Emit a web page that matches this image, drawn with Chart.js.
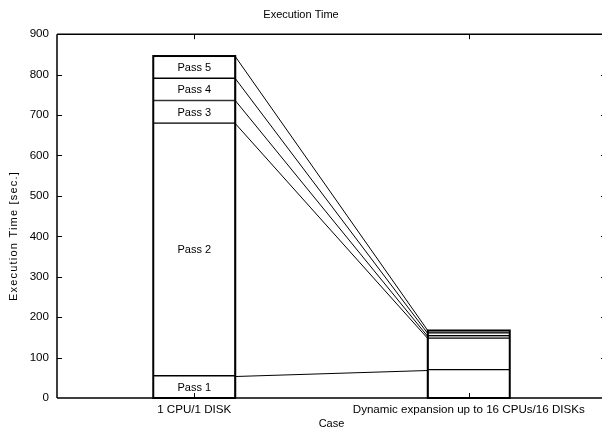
<!DOCTYPE html>
<html>
<head>
<meta charset="utf-8">
<script src="https://cdn.jsdelivr.net/npm/chart.js@4/dist/chart.umd.min.js"></script>
<style>
  html, body { margin: 0; padding: 0; background: #fff; }
  canvas { display: block; }
</style>
</head>
<body>
<canvas id="c" width="602" height="432"></canvas>
<script>
// Execution time per pass for each configuration (seconds)
const cases = ['1 CPU/1 DISK', 'Dynamic expansion up to 16 CPUs/16 DISKs'];
const passNames = ['Pass 1', 'Pass 2', 'Pass 3', 'Pass 4', 'Pass 5'];
const pass1 = [55, 70];
const pass2 = [625, 78];
const pass3 = [56, 6];
const pass4 = [55, 7];
const pass5 = [55, 6];
const yTicks = [0, 100, 200, 300, 400, 500, 600, 700, 800, 900];
const yTitle = 'Execution Time [sec.]';

const FONT = "'Liberation Sans', Arial, Helvetica, sans-serif";
const passValues = [pass1, pass2, pass3, pass4, pass5];

const datasets = passValues.map((vals, i) => ({
  label: passNames[i],
  data: vals,
  backgroundColor: '#ffffff',
  borderColor: '#000000',
  borderWidth: 1,
  borderSkipped: false,
  barThickness: 82
}));

// The plot frame runs a few pixels past the right edge of the canvas,
// so the right-hand border is clipped and only the mirrored ticks show.
const overhangPlugin = {
  id: 'overhang',
  afterLayout(chart) {
    const extra = 4;
    const xs = chart.scales.x;
    xs.right += extra;
    xs.width += extra;
    xs.configure();
    chart.chartArea.right += extra;
    chart.chartArea.width += extra;
  }
};

// Gnuplot-style frame: border, inward ticks, mirrored ticks,
// lines joining segment tops and labels inside the first bar.
const framePlugin = {
  id: 'frame',
  afterDatasetsDraw(chart) {
    const ctx = chart.ctx;
    const a = chart.chartArea;
    const xs = chart.scales.x, ys = chart.scales.y;
    ctx.save();
    ctx.strokeStyle = '#000';

    // connecting lines between the tops of matching segments
    ctx.lineWidth = 1;
    chart.data.datasets.forEach((ds, i) => {
      const els = chart.getDatasetMeta(i).data;
      const l = els[0], r = els[1];
      ctx.beginPath();
      ctx.moveTo(l.x + l.width / 2, Math.round(l.y) + 0.5);
      ctx.lineTo(r.x - r.width / 2, Math.round(r.y) + 0.5);
      ctx.stroke();
    });

    // outer outline of each stacked bar
    ctx.lineWidth = 2;
    const n = chart.data.datasets.length;
    for (let k = 0; k < cases.length; k++) {
      const bottom = chart.getDatasetMeta(0).data[k];
      const top = chart.getDatasetMeta(n - 1).data[k];
      const x0 = bottom.x - bottom.width / 2, x1 = bottom.x + bottom.width / 2;
      ctx.strokeRect(x0, top.y, x1 - x0, bottom.base - top.y);
    }

    // segment labels in the first bar
    ctx.fillStyle = '#000';
    ctx.font = '11px ' + FONT;
    ctx.textAlign = 'center';
    ctx.textBaseline = 'middle';
    chart.data.datasets.forEach((ds, i) => {
      const el = chart.getDatasetMeta(i).data[0];
      ctx.fillText(ds.label, el.x, (el.y + el.base) / 2 + 1);
    });

    // border: left, top, bottom
    ctx.lineWidth = 1.5;
    ctx.beginPath();
    ctx.moveTo(a.left, a.top);
    ctx.lineTo(a.left, a.bottom);
    ctx.moveTo(a.left, a.top);
    ctx.lineTo(chart.width, a.top);
    ctx.moveTo(a.left, a.bottom);
    ctx.lineTo(chart.width, a.bottom);
    ctx.stroke();

    // inward ticks
    ctx.lineWidth = 1;
    ctx.beginPath();
    yTicks.forEach(v => {
      const y = Math.round(ys.getPixelForValue(v)) + 0.5;
      if (v === 0 || v === 900) return;
      ctx.moveTo(a.left, y); ctx.lineTo(a.left + 5, y);
      ctx.moveTo(a.right, y); ctx.lineTo(a.right - 5, y);
    });
    cases.forEach((c, k) => {
      const x = Math.round(xs.getPixelForValue(k)) + 0.5;
      ctx.moveTo(x, a.bottom); ctx.lineTo(x, a.bottom - 5);
      ctx.moveTo(x, a.top); ctx.lineTo(x, a.top + 5);
    });
    ctx.stroke();

    // rotated y-axis title, loosely spaced
    ctx.translate(13.5, 236);
    ctx.rotate(-Math.PI / 2);
    ctx.font = '11px ' + FONT;
    if ('letterSpacing' in ctx) ctx.letterSpacing = '1.2px';
    ctx.textAlign = 'center';
    ctx.textBaseline = 'middle';
    ctx.fillText(yTitle, 0, 0);
    ctx.restore();
  }
};

new Chart(document.getElementById('c'), {
  type: 'bar',
  data: { labels: cases, datasets },
  plugins: [overhangPlugin, framePlugin],
  options: {
    responsive: false,
    animation: false,
    devicePixelRatio: 1,
    layout: { padding: { left: 0, right: 0, top: 0, bottom: 0 } },
    plugins: {
      legend: { display: false },
      tooltip: { enabled: false },
      title: {
        display: true,
        text: 'Execution Time',
        color: '#000',
        font: { family: FONT, size: 11, weight: 'normal' },
        padding: { top: 8, bottom: 13 }
      }
    },
    scales: {
      x: {
        stacked: true,
        grid: { display: false, drawTicks: false },
        border: { display: false },
        ticks: {
          color: '#000',
          font: { family: FONT, size: 11.6 },
          padding: 5,
          maxRotation: 0,
          autoSkip: false
        },
        title: {
          display: true,
          text: 'Case',
          color: '#000',
          font: { family: FONT, size: 11 },
          padding: { top: 0, bottom: 1.5 }
        },
        afterFit(scale) { scale.height = 34; }
      },
      y: {
        stacked: true,
        min: 0,
        max: 900,
        afterBuildTicks(scale) { scale.ticks = yTicks.map(v => ({ value: v })); },
        grid: { display: false, drawTicks: false },
        border: { display: false },
        ticks: {
          color: '#000',
          font: { family: FONT, size: 11.6 },
          padding: 8
        },
        title: { display: false },
        afterFit(scale) { scale.width = 57; }
      }
    }
  }
});
</script>
</body>
</html>
